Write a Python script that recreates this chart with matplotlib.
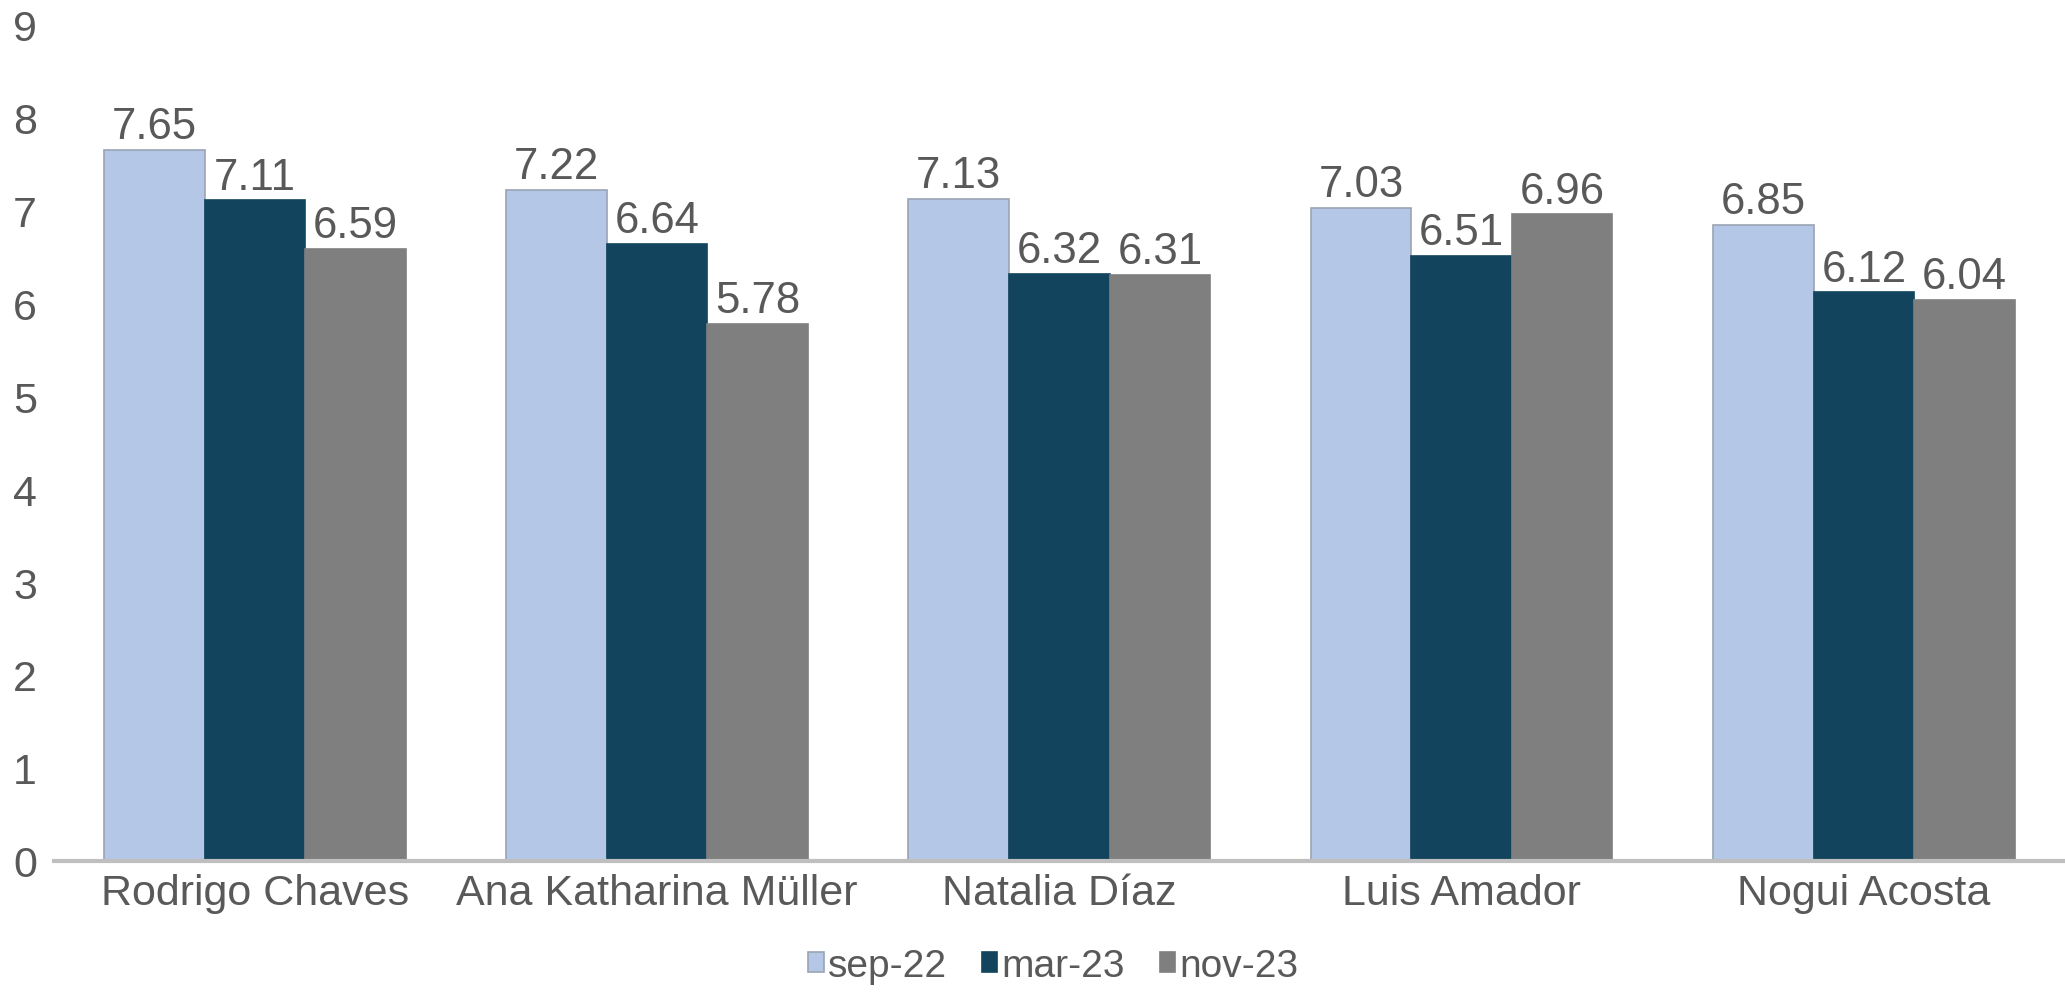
import numpy as np
import matplotlib.pyplot as plt

# ─── DATA ─────────────────────────────────────────────────────────
names  = ["Rodrigo Chaves", "Ana Katharina Müller", "Natalia Díaz",
          "Luis Amador", "Nogui Acosta"]
series = ["sep-22", "mar-23", "nov-23"]
sep22  = [7.65, 7.22, 7.13, 7.03, 6.85]
mar23  = [7.11, 6.64, 6.32, 6.51, 6.12]
nov23  = [6.59, 5.78, 6.31, 6.96, 6.04]

colors = ["#B4C7E7", "#12445E", "#7F7F7F"]
edges  = ["#9AA4B4", "#12445E", "#7F7F7F"]
txt    = "#595959"

plt.rcParams['font.family'] = ['Liberation Sans', 'DejaVu Sans']

# ─── FIGURE ───────────────────────────────────────────────────────
fig = plt.figure(figsize=(20.65, 9.95), dpi=100)
ax = fig.add_axes([0.026, 0.134, 0.974, 0.84])

x = np.arange(len(names))
w = 0.25
for i, (vals, lab) in enumerate(zip([sep22, mar23, nov23], series)):
    bars = ax.bar(x + (i - 1) * w, vals, w, color=colors[i],
                  edgecolor=edges[i], linewidth=1.2, label=lab, zorder=2)
    ax.bar_label(bars, labels=[f"{v:.2f}" for v in vals], padding=2,
                 fontsize=31.5, color=txt)

ax.set_xlim(-0.5, len(names) - 0.5)
ax.set_ylim(0, 9)
ax.set_yticks(range(10))
ax.set_xticks(x)
ax.set_xticklabels(names)
ax.tick_params(axis='both', length=0, labelsize=31, colors=txt)
ax.tick_params(axis='x', pad=9)
ax.tick_params(axis='y', pad=12)

for s in ["top", "right", "left"]:
    ax.spines[s].set_visible(False)
ax.spines["bottom"].set_color("#BFBFBF")
ax.spines["bottom"].set_linewidth(3)
ax.spines["bottom"].set_zorder(3)

leg = fig.legend(loc="lower center", bbox_to_anchor=(0.51, -0.025), ncol=3,
                 frameon=False, fontsize=28, handlelength=0.4,
                 handleheight=0.4, handletextpad=0.1, columnspacing=0.9,
                 labelcolor=txt)

fig.savefig("out.png", dpi=100)
